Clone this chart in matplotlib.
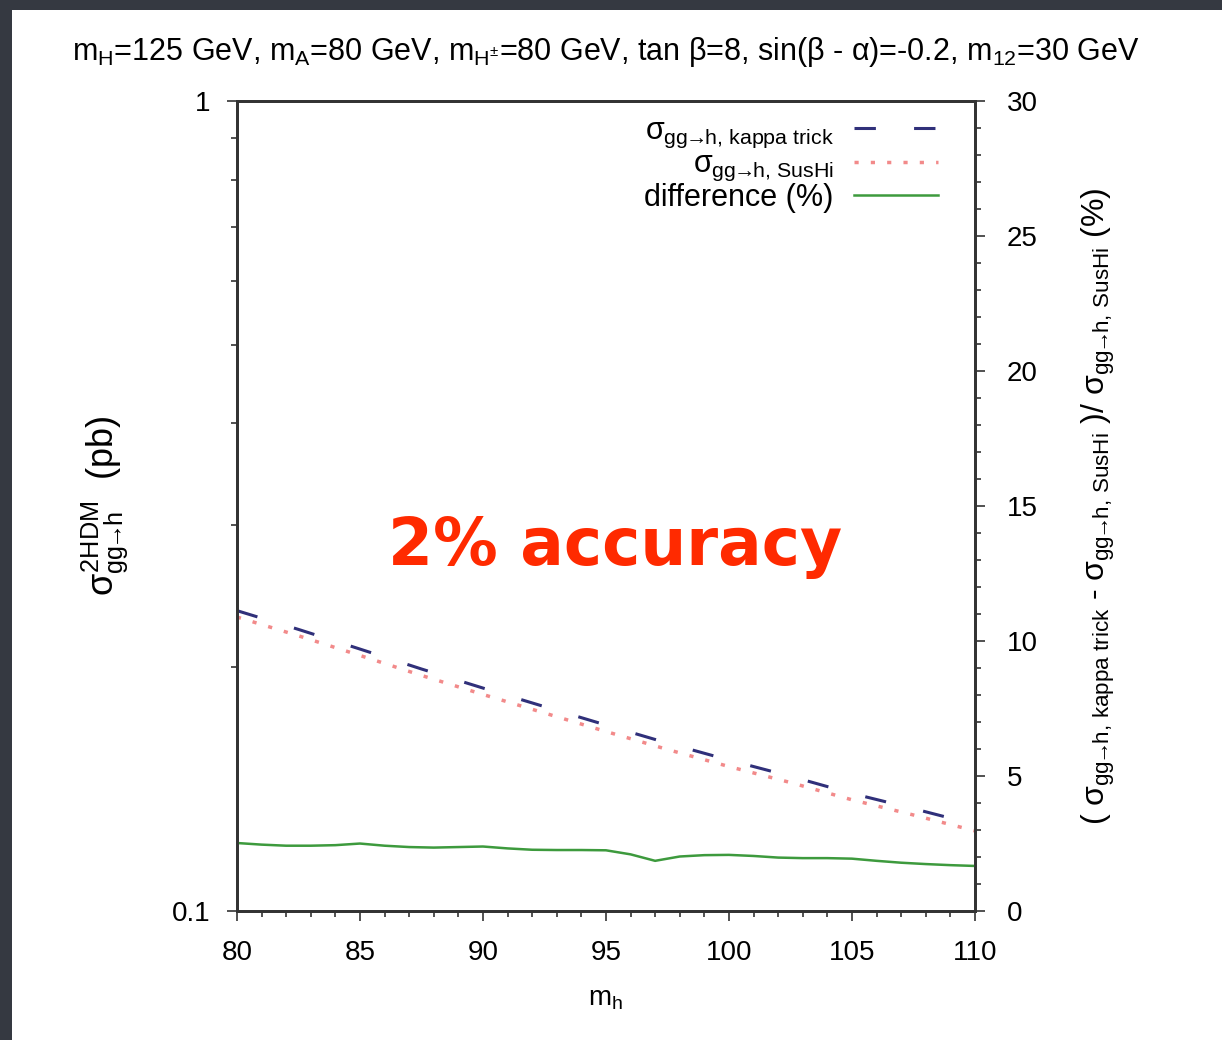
import matplotlib
matplotlib.use("Agg")
import matplotlib.pyplot as plt
from matplotlib.patches import Rectangle
from matplotlib.ticker import MultipleLocator, FixedLocator, NullFormatter

plt.rcParams['font.family'] = ['Liberation Sans', 'DejaVu Sans']
plt.rcParams['mathtext.fontset'] = 'custom'
plt.rcParams['mathtext.rm'] = 'Liberation Sans'
plt.rcParams['mathtext.it'] = 'Liberation Sans'
plt.rcParams['mathtext.bf'] = 'Liberation Sans:bold'

# cross sections (pb)
mh_xs = [80, 82.5, 85, 87.5, 90, 92.5, 95, 97.5, 100, 102.5, 105, 107.5, 110]
sigma_kappa = [0.2349, 0.2227, 0.2106, 0.1990, 0.1885, 0.1788, 0.1697,
               0.1612, 0.1536, 0.1467, 0.1397, 0.1338, 0.1279]
sigma_sushi = [0.2307, 0.2187, 0.2068, 0.1954, 0.1851, 0.1756, 0.1666,
               0.1583, 0.1508, 0.1441, 0.1372, 0.1314, 0.1256]

# relative difference (%)
mh_diff = list(range(80, 111))
diff_pct = [2.52, 2.46, 2.42, 2.42, 2.44, 2.50, 2.42, 2.37, 2.35, 2.37,
            2.39, 2.32, 2.27, 2.26, 2.26, 2.25, 2.10, 1.86, 2.02, 2.07,
            2.08, 2.04, 1.98, 1.96, 1.96, 1.94, 1.86, 1.79, 1.74, 1.70, 1.67]

gg = r'gg\!\!\rightarrow\!\!h'
title = (r'm$_\mathrm{H}$=125 GeV, m$_\mathrm{A}$=80 GeV, m$_\mathrm{H^{\pm}}$=80 GeV, '
         'tan β=8, sin(β - α)=-0.2, m$_\\mathrm{12}$=30 GeV')
lab_kappa = r'$\sigma_\mathrm{' + gg + r',\,kappa\ trick}$'
lab_sushi = r'$\sigma_\mathrm{' + gg + r',\,SusHi}$'
lab_diff = 'difference (%)'

fig = plt.figure(figsize=(12.22, 10.4), dpi=100)
fig.patch.set_facecolor('#353941')
fig.patches.append(Rectangle((12 / 1222, 0), 1 - 12 / 1222, 1 - 10 / 1040,
                             transform=fig.transFigure, facecolor='white',
                             edgecolor='none', zorder=-10))

ax = fig.add_axes([0.1939, 0.124, 0.6039, 0.7788])
ax2 = ax.twinx()

c_axis = '#333333'
for a in (ax, ax2):
    for s in a.spines.values():
        s.set_color(c_axis)
        s.set_linewidth(2)

l1, = ax.plot(mh_xs, sigma_kappa, color='#30307a', lw=2.2, ls=(0, (7, 12.5)),
              label=lab_kappa)
l2, = ax.plot(mh_xs, sigma_sushi, color='#f28a8a', lw=2.5, ls=(0, (1.2, 3.5)),
              label=lab_sushi)
ax.set_yscale('log')
ax.set_xlim(80, 110)
ax.set_ylim(0.1, 1)
ax.set_yticks([0.1, 1])
ax.set_yticklabels(['0.1', '1'])
ax.yaxis.set_minor_locator(FixedLocator([0.2, 0.3, 0.4, 0.5, 0.6, 0.7, 0.8, 0.9]))
ax.yaxis.set_minor_formatter(NullFormatter())
ax.xaxis.set_major_locator(MultipleLocator(5))
ax.xaxis.set_minor_locator(MultipleLocator(1))

l3, = ax2.plot(mh_diff, diff_pct, color='#3d9a3d', lw=1.8, label=lab_diff)
ax2.set_ylim(0, 30)
ax2.yaxis.set_major_locator(MultipleLocator(5))
ax2.yaxis.set_minor_locator(MultipleLocator(1))

ax.tick_params(axis='both', which='major', direction='out', length=7, width=1.2,
               color=c_axis, labelsize=20, pad=10)
ax.tick_params(axis='both', which='minor', direction='out', length=4, width=1.2,
               color=c_axis)
ax.tick_params(axis='y', pad=12)
ax.tick_params(axis='x', pad=14)
ax2.tick_params(axis='y', which='major', direction='out', length=7, width=1.2,
                color=c_axis, labelsize=20, pad=16)
ax2.tick_params(axis='y', which='minor', direction='out', length=4, width=1.2,
                color=c_axis)

ax.set_xlabel(r'm$_\mathrm{h}$', fontsize=20, labelpad=14)
ax.set_ylabel(r'$\sigma^\mathrm{2HDM}_\mathrm{' + gg + r'}$  (pb)', fontsize=26,
              labelpad=30)
ax2.set_ylabel(r'( $\sigma_\mathrm{' + gg + r',\,kappa\ trick}$ - '
               r'$\sigma_\mathrm{' + gg + r',\,SusHi}$ )/ '
               r'$\sigma_\mathrm{' + gg + r',\,SusHi}$ (%)',
               fontsize=23, rotation=90, labelpad=30)

fig.text(0.496, 0.950, title, ha='center', va='center', fontsize=22)

leg = ax.legend(handles=[l1, l2, l3], loc='upper right', frameon=False,
                fontsize=22, markerfirst=False, handlelength=2.75,
                handletextpad=0.65, labelspacing=-0.02,
                borderaxespad=0.0, bbox_to_anchor=(0.966, 0.997))

fig.text(388 / 1222, 1 - 565 / 1040, '2% accuracy', color='#ff2a00',
         fontsize=46.5, ha='left', va='baseline', family='DejaVu Sans',
         fontweight='bold')

fig.savefig('out.png', dpi=100, facecolor=fig.get_facecolor())
